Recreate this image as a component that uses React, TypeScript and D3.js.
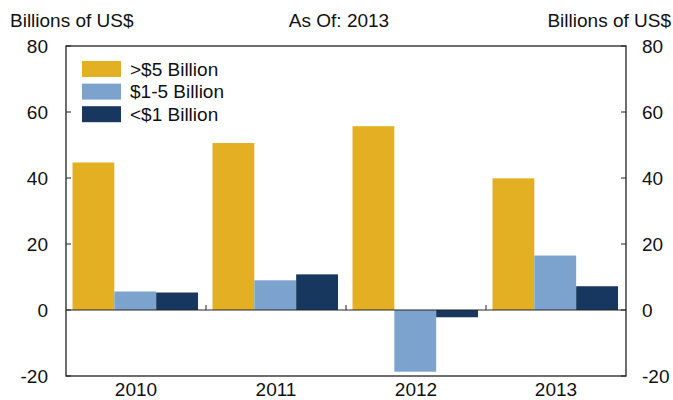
import React from "react";
import * as d3 from "d3";

const years = ["2010", "2011", "2012", "2013"];
const seriesNames = [">$5 Billion", "$1-5 Billion", "<$1 Billion"];
const over5 = [44.7, 50.6, 55.7, 39.9];
const oneToFive = [5.6, 9.0, -18.7, 16.5];
const under1 = [5.3, 10.8, -2.2, 7.2];
const colors = ["#E3B024", "#7BA3CD", "#17375E"];
const yTicks = [-20, 0, 20, 40, 60, 80];

const W = 673, H = 400;
const left = 66, right = 626, top = 46, bottom = 376;

export default function App() {
  const series = [over5, oneToFive, under1];
  const x0 = d3.scaleBand<string>().domain(years).range([left, right]).padding(0);
  const x1 = d3.scaleBand<number>().domain([0, 1, 2]).range([6.5, 6.5 + 125.5]).padding(0);
  const y = d3.scaleLinear().domain([-20, 80]).range([bottom, top]);
  const font = "'Liberation Sans', Arial, sans-serif";
  const fs = 19;
  return (
    <svg width={W} height={H} style={{ position: "absolute", left: 0, top: 0 }} fontFamily={font}>
      <rect x={0} y={0} width={W} height={H} fill="#fff" />
      <text x={10} y={27} fontSize={fs} fill="#111">Billions of US$</text>
      <text x={339} y={27} fontSize={fs} fill="#111" textAnchor="middle">As Of: 2013</text>
      <text x={671} y={27} fontSize={fs} fill="#111" textAnchor="end">Billions of US$</text>
      {years.map((yr, i) =>
        series.map((s, j) => {
          const v = s[i];
          const bx = (x0(yr) as number) + (x1(j) as number);
          return (
            <rect key={yr + j} x={bx} width={x1.bandwidth()} y={y(Math.max(0, v))}
              height={Math.abs(y(v) - y(0))} fill={colors[j]} />
          );
        })
      )}
      <line x1={left} x2={right} y1={y(0)} y2={y(0)} stroke="#222" strokeWidth={1} />
      {years.slice(1).map((yr) => (
        <line key={yr} x1={x0(yr)} x2={x0(yr)} y1={y(0)} y2={y(0) - 5} stroke="#222" strokeWidth={1} />
      ))}
      <rect x={left} y={top} width={right - left} height={bottom - top} fill="none" stroke="#222" strokeWidth={1.3} />
      {yTicks.map((t) => (
        <g key={t}>
          <line x1={left} x2={left + 5} y1={y(t)} y2={y(t)} stroke="#222" strokeWidth={1} />
          <line x1={right - 5} x2={right} y1={y(t)} y2={y(t)} stroke="#222" strokeWidth={1} />
          <text x={48} y={y(t)} dy="0.35em" fontSize={fs} textAnchor="end" fill="#111">{t}</text>
          <text x={642} y={y(t)} dy="0.35em" fontSize={fs} fill="#111">{t}</text>
        </g>
      ))}
      {years.map((yr) => (
        <text key={yr} x={(x0(yr) as number) + x0.bandwidth() / 2} y={396} fontSize={fs} textAnchor="middle" fill="#111">{yr}</text>
      ))}
      {seriesNames.map((n, j) => (
        <g key={n}>
          <rect x={82} y={61 + j * 22.6} width={39} height={16} fill={colors[j]} />
          <text x={130} y={69 + j * 22.6} dy="0.35em" fontSize={fs} fill="#111">{n}</text>
        </g>
      ))}
    </svg>
  );
}
